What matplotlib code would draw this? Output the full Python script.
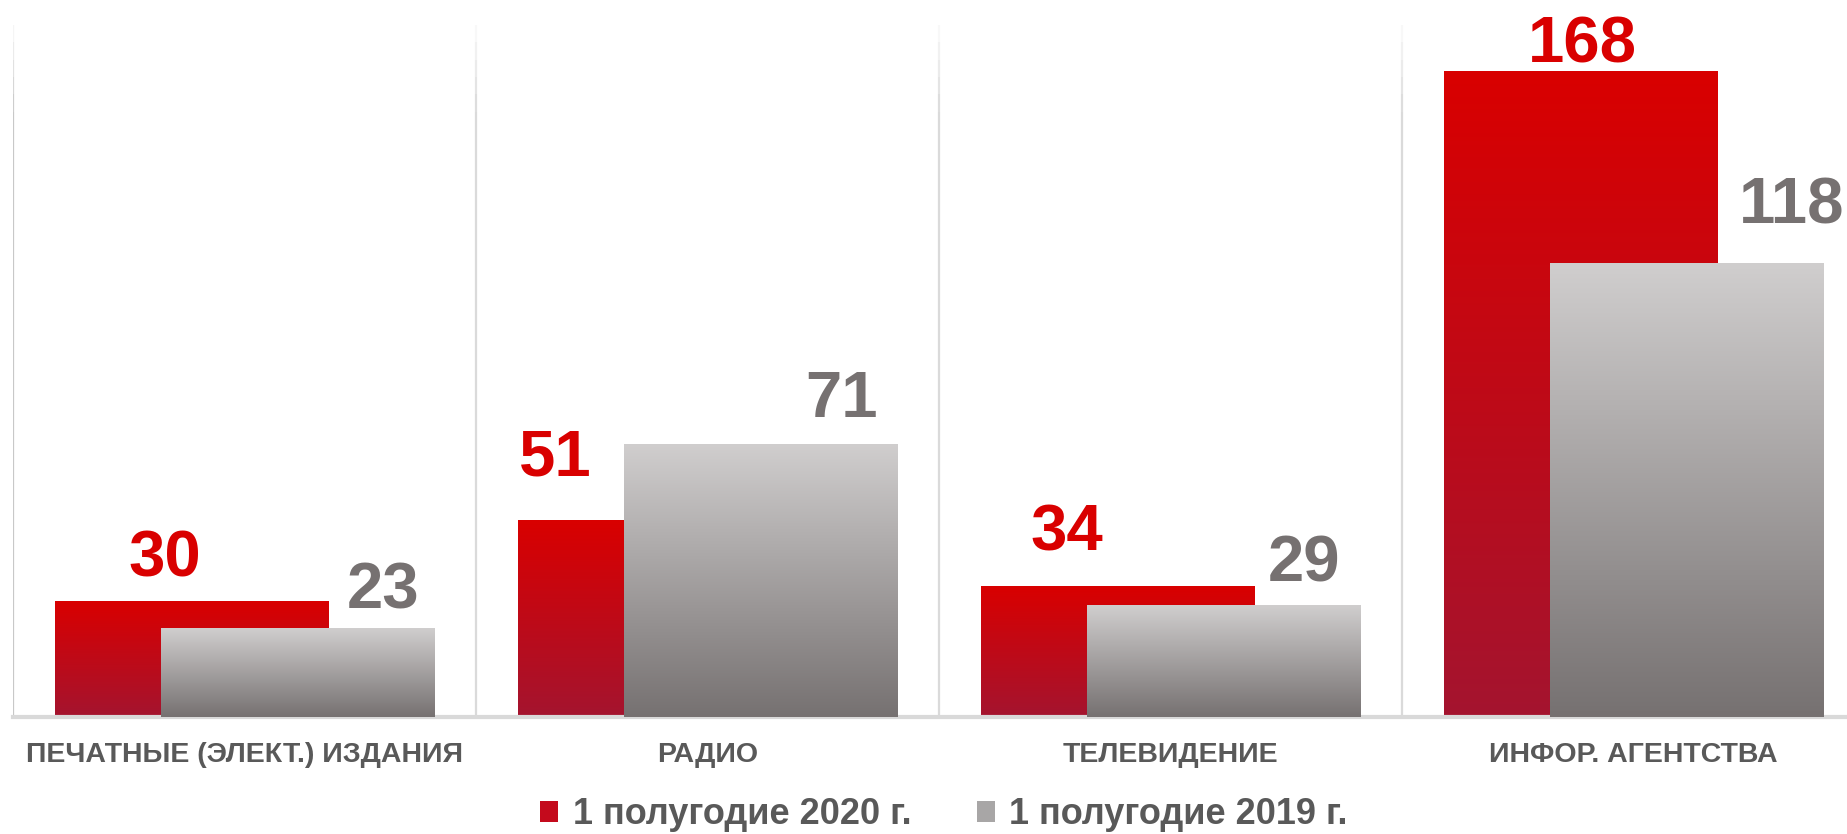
import numpy as np
import matplotlib
matplotlib.use("Agg")
import matplotlib.pyplot as plt
from matplotlib.colors import LinearSegmentedColormap
from matplotlib.patches import Patch

plt.rcParams['font.family'] = ['Liberation Sans', 'DejaVu Sans']

categories = ["ПЕЧАТНЫЕ (ЭЛЕКТ.) ИЗДАНИЯ", "РАДИО", "ТЕЛЕВИДЕНИЕ", "ИНФОР. АГЕНТСТВА"]
series_names = ["1 полугодие 2020 г.", "1 полугодие 2019 г."]
values_2020 = [30, 51, 34, 168]
values_2019 = [23, 71, 29, 118]

# label placement (hand tuned like the original slide)
red_label_dx = [-0.057, -0.215, -0.109, 0.003]
gray_label_dx = [0.185, 0.176, 0.174, 0.227]
red_label_gap = [25, 45, 36, 9]
gray_label_gap = [20, 27, 24, 40]

red_top, red_bottom = "#D90000", "#A4142F"
gray_top, gray_bottom = "#D0CECE", "#767171"
text_gray = "#595959"

W, H = 1847, 834
fig = plt.figure(figsize=(W / 100, H / 100), dpi=100)
# plot area runs a little past the right edge (cropped slide)
ax = fig.add_axes([13 / W, 1 - 717 / H, 1852 / W, 692 / H])

bar_w = 0.59
off = 0.1145
x = np.arange(len(categories))

red_bars = ax.bar(x - off, values_2020, bar_w, color="none", zorder=2)
gray_bars = ax.bar(x + off, values_2019, bar_w, color="none", zorder=3)


def fill_gradient(bars, top, bottom, z):
    cmap = LinearSegmentedColormap.from_list("g", [bottom, top])
    grad = np.linspace(0, 1, 256).reshape(-1, 1)
    for p in bars:
        x0, w, h = p.get_x(), p.get_width(), p.get_height()
        ax.imshow(grad, extent=[x0, x0 + w, 0, h], origin="lower", aspect="auto",
                  cmap=cmap, zorder=z, interpolation="bicubic")


fill_gradient(red_bars, red_top, red_bottom, 2)
fill_gradient(gray_bars, gray_top, gray_bottom, 3)

ax.set_xlim(-0.5, 3.5)
ax.set_ylim(0, 180)

# separators between categories, fading out near the top
for b in [-0.5, 0.5, 1.5, 2.5]:
    col = "#C8C8C8" if b == -0.5 else "#DADADA"
    ys = np.linspace(0, 180, 41)
    for i in range(40):
        a = min(1.0, (180 - ys[i]) / 25.0)
        ax.plot([b, b], [ys[i], ys[i + 1]], color=col, lw=1.6, alpha=a,
                solid_capstyle="butt", zorder=1)

for i in range(len(categories)):
    ax.annotate(str(values_2020[i]), (x[i] - off + red_label_dx[i], values_2020[i]),
                xytext=(0, red_label_gap[i]), textcoords="offset pixels",
                ha="center", va="baseline", fontsize=47, fontweight="bold",
                color=red_top, zorder=5)
    ax.annotate(str(values_2019[i]), (x[i] + off + gray_label_dx[i], values_2019[i]),
                xytext=(0, gray_label_gap[i]), textcoords="offset pixels",
                ha="center", va="baseline", fontsize=47, fontweight="bold",
                color=gray_bottom, zorder=5)

for s in ["top", "right", "left"]:
    ax.spines[s].set_visible(False)
ax.spines["bottom"].set_color("#D9D9D9")
ax.spines["bottom"].set_linewidth(3)
ax.set_yticks([])
ax.set_xticks(x)
ax.set_xticklabels(categories, fontsize=20.5, fontweight="bold", color=text_gray)
ax.tick_params(axis="x", length=0, pad=18)

handles = [Patch(facecolor="#C40A1C", edgecolor="none"),
           Patch(facecolor="#A8A6A6", edgecolor="none")]
fig.legend(handles, series_names, loc="center", bbox_to_anchor=(944 / W, 1 - 815 / H),
           ncol=2, frameon=False, prop={"size": 26, "weight": "bold"},
           labelcolor=text_gray, handlelength=0.5, handleheight=0.5,
           handletextpad=0.4, columnspacing=1.8)

fig.savefig("out.png", dpi=100)
